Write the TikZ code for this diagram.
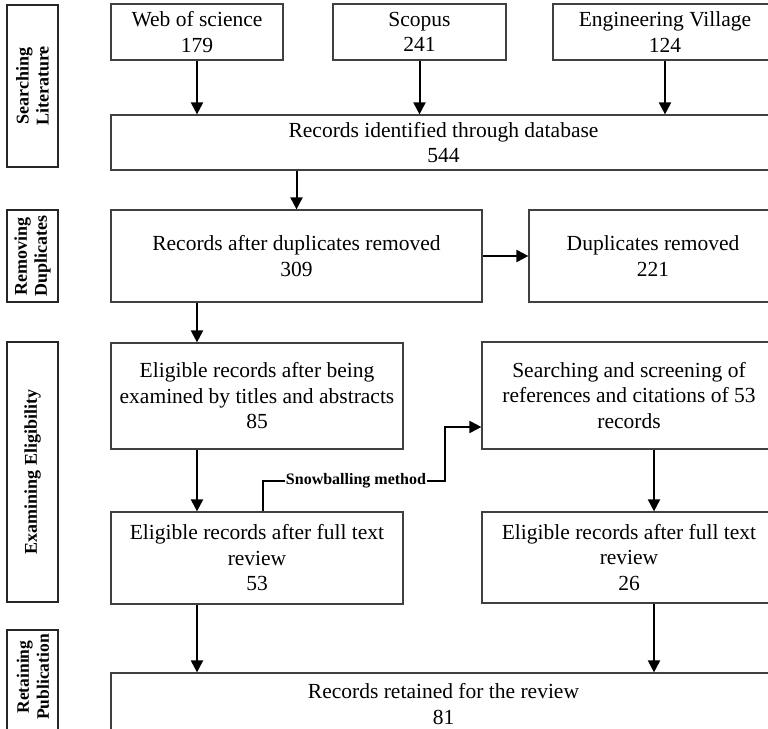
\documentclass[tikz,border=0pt]{standalone}
\usepackage{fontspec}
\setmainfont{Liberation Serif}
\usetikzlibrary{arrows.meta}
\begin{document}
\begin{tikzpicture}[x=1pt,y=-1pt,
 box/.style={draw=black!75, line width=1.2pt, rectangle, inner sep=0pt, align=center, font=\fontsize{21.5}{25.5}\selectfont},
 lab/.style={draw=black!85, line width=1.2pt, rectangle, inner sep=0pt},
 labtxt/.style={rotate=90, align=center, inner sep=0pt, font=\bfseries\fontsize{18}{20}\selectfont},
 arr/.style={line width=2pt, -{Triangle[length=12pt,width=12pt]}},
 con/.style={line width=2pt}]
\useasboundingbox (0,0) rectangle (768,728);
\clip (0,0) rectangle (768,728);
% stage labels
\node[lab, minimum width=51pt, minimum height=162pt] (l1) at (32.5,86) {};
\node[labtxt] (t1) at (l1.center) {Searching\\Literature};
\node[lab, minimum width=51pt, minimum height=92pt] (l2) at (32.5,256) {};
\node[labtxt] (t2) at (l2.center) {Removing\\Duplicates};
\node[lab, minimum width=51pt, minimum height=260pt] (l3) at (32.5,472) {};
\node[labtxt] (t3) at (l3.center) {Examining Eligibility};
\node[lab, minimum width=51pt, minimum height=120pt] (l4) at (32.5,690) {};
\node[labtxt, font=\bfseries\fontsize{17.5}{20}\selectfont] (t4) at (33,677) {Retaining\\Publication};
% boxes
\node[box, minimum width=172pt, minimum height=56pt] (wos) at (197,32) {Web of science\\179};
\node[box, minimum width=173pt, minimum height=56pt] (sco) at (419.5,32) {Scopus\\241};
\node[box, minimum width=224pt, minimum height=56pt] (ev) at (665,32) {Engineering Village\\124};
\node[box, minimum width=665pt, minimum height=55pt] (rid) at (443.5,142.5) {Records identified through database\\544};
\node[box, minimum width=371pt, minimum height=92pt] (rad) at (296.5,256) {Records after duplicates removed\\309};
\node[box, minimum width=248pt, minimum height=92pt] (dr) at (653,256) {Duplicates removed\\221};
\node[box, minimum width=292pt, minimum height=106pt] (e85) at (257,396) {Eligible records after being\\examined by titles and abstracts\\85};
\node[box, minimum width=294pt, minimum height=107pt] (ss) at (629,395.5) {Searching and screening of\\references and citations of 53\\records};
\node[box, minimum width=292pt, minimum height=92pt] (e53) at (257,558) {Eligible records after full text\\review\\53};
\node[box, minimum width=294pt, minimum height=91pt] (e26) at (629,557.5) {Eligible records after full text\\review\\26};
\node[box, minimum width=665pt, minimum height=62pt] (rr) at (443.5,704) {Records retained for the review\\81};
% connectors
\coordinate (xl) at (197,0);
\coordinate (xr) at (654,0);
\draw[arr] (wos.south) -- (wos.south |- rid.north);
\draw[arr] (sco.south) -- (sco.south |- rid.north);
\draw[arr] (ev.south) -- (ev.south |- rid.north);
\draw[arr] (rad.north |- rid.south) -- (rad.north);
\draw[arr] (rad.east) -- (dr.west);
\draw[arr] (xl |- rad.south) -- (xl |- e85.north);
\draw[arr] (xl |- e85.south) -- (xl |- e53.north);
\draw[arr] (xr |- ss.south) -- (xr |- e26.north);
\draw[arr] (xl |- e53.south) -- (xl |- rr.north);
\draw[arr] (xr |- e26.south) -- (xr |- rr.north);
% snowballing
\node[inner sep=1pt, font=\bfseries\fontsize{16}{18}\selectfont] (snow) at (356,481) {Snowballing method};
\coordinate (sA) at (263,0);
\coordinate (sB) at (445,427);
\draw[con] (sA |- e53.north) |- (snow.west);
\draw[arr] (snow.east) -| (sB) -- (sB -| ss.west);
\end{tikzpicture}
\end{document}
